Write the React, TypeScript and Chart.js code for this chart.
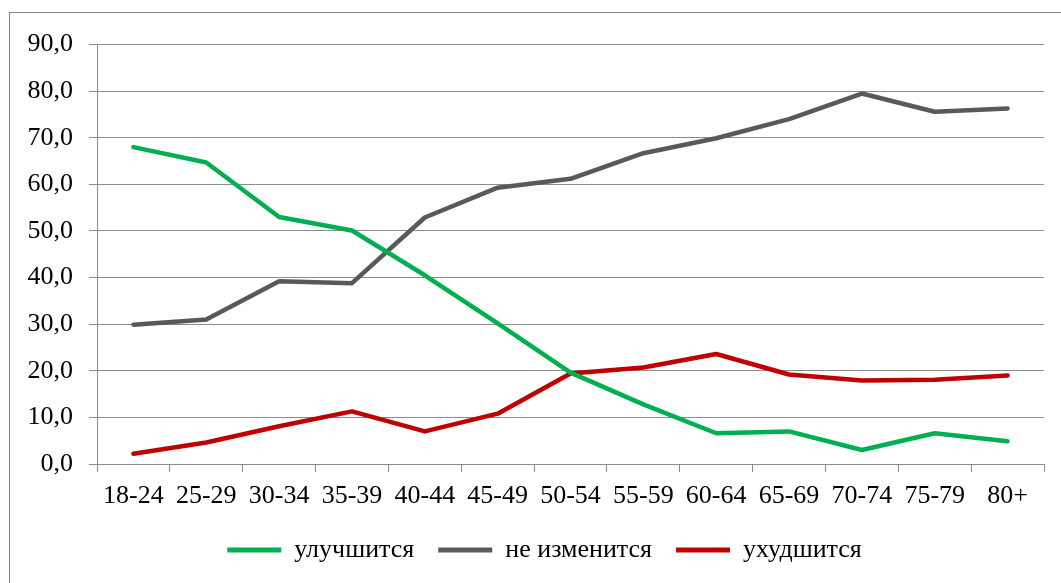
import React, { useEffect, useRef } from "react";
import { Chart, registerables } from "chart.js";

Chart.register(...registerables);

const categories = ["18-24", "25-29", "30-34", "35-39", "40-44", "45-49", "50-54", "55-59", "60-64", "65-69", "70-74", "75-79", "80+"];
const improve = [68.0, 64.7, 53.0, 50.1, 40.5, 30.2, 19.6, 12.8, 6.6, 7.0, 3.0, 6.6, 4.9];
const unchanged = [29.9, 31.0, 39.2, 38.8, 52.9, 59.3, 61.2, 66.7, 69.9, 74.0, 79.5, 75.6, 76.3];
const worsen = [2.2, 4.6, 8.1, 11.3, 7.0, 10.8, 19.4, 20.7, 23.6, 19.2, 17.9, 18.1, 19.0];
const seriesNames = ["улучшится", "не изменится", "ухудшится"];
const yTicks = [0, 10, 20, 30, 40, 50, 60, 70, 80, 90];

const FONT = "'Liberation Serif', 'Times New Roman', serif";
const GRID = "#8c8c8c";
const FS = 26;

export default function App() {
  const ref = useRef<HTMLCanvasElement>(null);

  useEffect(() => {
    if (!ref.current) return;
    const lineStyle = { borderWidth: 4.5, pointRadius: 0, tension: 0, borderCapStyle: "round", borderJoinStyle: "round" };
    const chart = new Chart(ref.current, {
      type: "line",
      data: {
        labels: categories,
        datasets: [
          { label: seriesNames[0], data: improve, borderColor: "#00B050", backgroundColor: "#00B050", ...lineStyle },
          { label: seriesNames[1], data: unchanged, borderColor: "#595959", backgroundColor: "#595959", ...lineStyle },
          { label: seriesNames[2], data: worsen, borderColor: "#C00000", backgroundColor: "#C00000", ...lineStyle },
        ] as any,
      },
      options: {
        animation: false,
        responsive: false,
        maintainAspectRatio: false,
        layout: { padding: { left: 0, right: 0, top: 29, bottom: 10 } },
        plugins: {
          tooltip: { enabled: false },
          legend: {
            position: "bottom",
            labels: {
              font: { family: FONT, size: FS },
              color: "#000",
              boxWidth: 54,
              boxHeight: 5,
              padding: 24,
              generateLabels: (c: any) =>
                c.data.datasets.map((ds: any, i: number) => ({
                  text: ds.label,
                  fillStyle: ds.borderColor,
                  strokeStyle: ds.borderColor,
                  lineWidth: 0,
                  hidden: false,
                  datasetIndex: i,
                  fontColor: "#000",
                })),
            },
          },
        },
        scales: {
          x: {
            offset: true,
            grid: { offset: true, drawOnChartArea: false, drawTicks: true, tickLength: 8, color: GRID, lineWidth: 1 },
            border: { display: true, color: GRID, width: 1 },
            ticks: { font: { family: FONT, size: FS }, color: "#000", padding: 9, maxRotation: 0, autoSkip: false },
            afterFit: (s: any) => { s.height = 49; },
          },
          y: {
            min: 0,
            max: 90,
            afterBuildTicks: (s: any) => { s.ticks = yTicks.map((v) => ({ value: v })); },
            grid: { color: GRID, lineWidth: 1, drawTicks: true, tickLength: 8 },
            border: { display: true, color: GRID, width: 1 },
            ticks: {
              font: { family: FONT, size: FS },
              color: "#000",
              padding: 16,
              callback: (v: any) => Number(v).toFixed(1).replace(".", ","),
            },
            afterFit: (s: any) => { s.width = 87; },
          },
          ySpacer: {
            position: "right",
            display: true,
            min: 0,
            max: 90,
            grid: { display: false, drawTicks: false },
            border: { display: false },
            ticks: { display: false },
            afterFit: (s: any) => { s.width = 35; },
          },
        },
      },
    });
    return () => chart.destroy();
  }, []);

  return (
    <div style={{ position: "absolute", left: 0, top: 0, width: 1061, height: 583, overflow: "hidden", background: "#fff" }}>
      <div style={{ position: "absolute", left: 9, top: 12, width: 1069, height: 600, border: "1px solid #868686", background: "#fff" }}>
        <canvas ref={ref} width={1069} height={570} style={{ display: "block", width: 1069, height: 570 }} />
      </div>
    </div>
  );
}
